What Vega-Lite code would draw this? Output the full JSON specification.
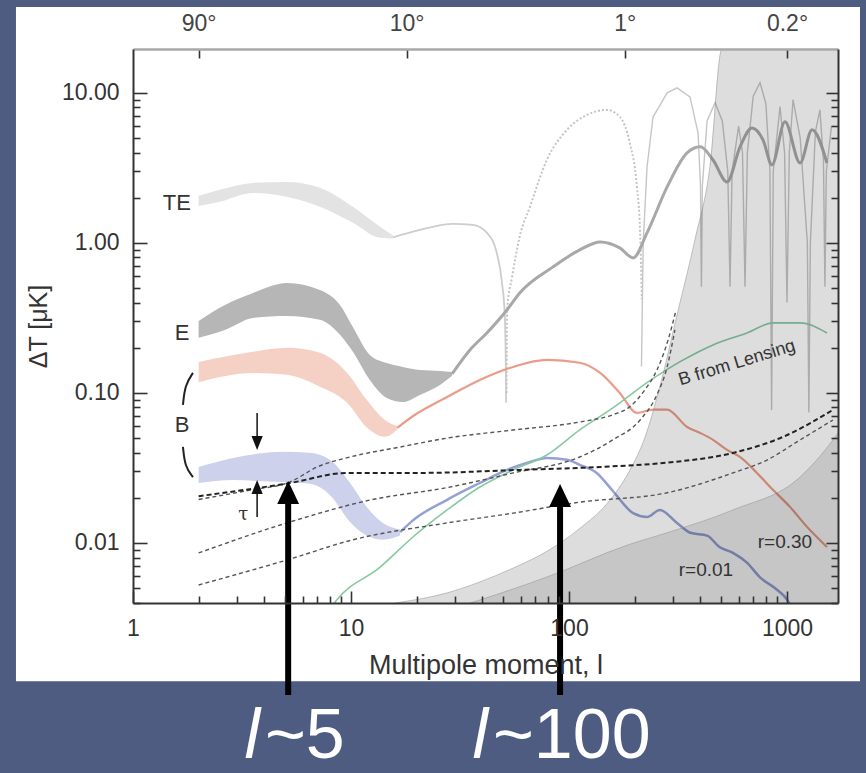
{
  "$schema": "https://vega.github.io/schema/vega-lite/v6.json",
  "width": 705,
  "height": 554,
  "autosize": {"type": "none"},
  "padding": {"left": 133, "top": 49, "right": 28, "bottom": 170},
  "background": "#4d5c80",
  "datasets": {
    "panel": [{"l": 0.2905, "l2": 2162, "v": 37.4, "v2": 0.0012}],
    "axdummy": [{"l": 10, "v": 1}],
    "te_band": [
      {"l": 2.0, "v": 2.06, "v2": 1.76}, {"l": 2.5, "v": 2.26, "v2": 1.88}, {"l": 3.55, "v": 2.51, "v2": 2.15},
      {"l": 5.08, "v": 2.55, "v2": 2.03}, {"l": 7.2, "v": 2.33, "v2": 1.74}, {"l": 10.2, "v": 1.74, "v2": 1.36},
      {"l": 13.6, "v": 1.28, "v2": 1.08}, {"l": 15.6, "v": 1.12, "v2": 1.07}
    ],
    "te_line": [
      {"l": 15.6, "v": 1.09}, {"l": 20.7, "v": 1.22}, {"l": 29.3, "v": 1.34}, {"l": 36.2, "v": 1.32}, {"l": 42, "v": 1.17},
      {"l": 46.6, "v": 0.86}, {"l": 49.3, "v": 0.54}, {"l": 50.8, "v": 0.32}, {"l": 51.3, "v": 0.15}, {"l": 51.5, "v": 0.086}
    ],
    "te_dot": [
      {"l": 51.7, "v": 0.1}, {"l": 52, "v": 0.36}, {"l": 54.8, "v": 0.59}, {"l": 59.4, "v": 1.1}, {"l": 66.2, "v": 1.74},
      {"l": 79.2, "v": 3.58}, {"l": 97.9, "v": 5.67}, {"l": 121, "v": 7.13}, {"l": 149, "v": 7.7}, {"l": 171, "v": 6.92},
      {"l": 190, "v": 4.64}, {"l": 205, "v": 2.36}, {"l": 212, "v": 1.17}, {"l": 216, "v": 0.42}
    ],
    "te_spk": [
      {"l": 215, "v": 0.15}, {"l": 219, "v": 1.0}, {"l": 228, "v": 3.2}, {"l": 243, "v": 6.9}, {"l": 282, "v": 10},
      {"l": 313, "v": 10.8}, {"l": 359, "v": 9.4}, {"l": 391, "v": 5.4}, {"l": 401, "v": 2.4}, {"l": 405, "v": 0.51},
      {"l": 409, "v": 2.4}, {"l": 430, "v": 6.5}, {"l": 468, "v": 8.6}, {"l": 505, "v": 6.5}, {"l": 535, "v": 3},
      {"l": 548, "v": 0.51}, {"l": 560, "v": 3}, {"l": 600, "v": 6}, {"l": 625, "v": 4}, {"l": 642, "v": 0.51},
      {"l": 658, "v": 4}, {"l": 700, "v": 9.5}, {"l": 752, "v": 11.7}, {"l": 800, "v": 8.5}, {"l": 835, "v": 3},
      {"l": 850, "v": 0.077}, {"l": 865, "v": 3}, {"l": 929, "v": 8.1}, {"l": 975, "v": 4}, {"l": 1000, "v": 0.4},
      {"l": 1025, "v": 4}, {"l": 1066, "v": 9}, {"l": 1150, "v": 5}, {"l": 1240, "v": 1}, {"l": 1260, "v": 0.074},
      {"l": 1280, "v": 1}, {"l": 1350, "v": 5.5}, {"l": 1416, "v": 7.7}, {"l": 1470, "v": 3.5}, {"l": 1493, "v": 0.51},
      {"l": 1515, "v": 3}, {"l": 1600, "v": 6}
    ],
    "e_band": [
      {"l": 2.0, "v": 0.302, "v2": 0.233}, {"l": 2.64, "v": 0.386, "v2": 0.263}, {"l": 3.55, "v": 0.464, "v2": 0.316},
      {"l": 5.08, "v": 0.541, "v2": 0.326}, {"l": 7.2, "v": 0.486, "v2": 0.307}, {"l": 8.9, "v": 0.386, "v2": 0.244},
      {"l": 10.2, "v": 0.275, "v2": 0.188}, {"l": 12.2, "v": 0.179, "v2": 0.122}, {"l": 14.6, "v": 0.158, "v2": 0.0926},
      {"l": 17.3, "v": 0.149, "v2": 0.087}, {"l": 20.7, "v": 0.142, "v2": 0.097}, {"l": 25.6, "v": 0.14, "v2": 0.113},
      {"l": 29.1, "v": 0.138, "v2": 0.13}
    ],
    "e_line": [
      {"l": 29.1, "v": 0.134}, {"l": 35.2, "v": 0.194}, {"l": 42, "v": 0.251}, {"l": 51.9, "v": 0.357}, {"l": 59.4, "v": 0.464},
      {"l": 84.5, "v": 0.692}, {"l": 112, "v": 0.898}, {"l": 139, "v": 1.015}, {"l": 171, "v": 0.926}, {"l": 197, "v": 0.794},
      {"l": 228, "v": 1.166}, {"l": 282, "v": 2.36}, {"l": 348, "v": 3.98}, {"l": 400, "v": 4.37}, {"l": 458, "v": 3.57},
      {"l": 531, "v": 2.55}, {"l": 609, "v": 4.37}, {"l": 691, "v": 5.84}, {"l": 776, "v": 4.86}, {"l": 853, "v": 3.31},
      {"l": 979, "v": 6.41}, {"l": 1148, "v": 3.41}, {"l": 1303, "v": 5.67}, {"l": 1525, "v": 3.41}
    ],
    "r30_band": [
      {"l": 2.0, "v": 0.161, "v2": 0.118}, {"l": 3.55, "v": 0.188, "v2": 0.136}, {"l": 5.08, "v": 0.2, "v2": 0.132},
      {"l": 7.2, "v": 0.185, "v2": 0.11}, {"l": 9.6, "v": 0.136, "v2": 0.086}, {"l": 11.8, "v": 0.09, "v2": 0.059},
      {"l": 14.3, "v": 0.066, "v2": 0.051}, {"l": 16.3, "v": 0.06, "v2": 0.057}
    ],
    "r30_line": [
      {"l": 16.3, "v": 0.0585}, {"l": 19.5, "v": 0.071}, {"l": 27.6, "v": 0.094}, {"l": 39, "v": 0.122}, {"l": 55.4, "v": 0.149},
      {"l": 79.2, "v": 0.166}, {"l": 112, "v": 0.159}, {"l": 139, "v": 0.136}, {"l": 171, "v": 0.1}, {"l": 205, "v": 0.0736},
      {"l": 243, "v": 0.0774}, {"l": 282, "v": 0.0774}, {"l": 348, "v": 0.0593}, {"l": 400, "v": 0.0541}, {"l": 458, "v": 0.0487},
      {"l": 531, "v": 0.0417}, {"l": 609, "v": 0.0375}, {"l": 728, "v": 0.0293}, {"l": 862, "v": 0.0226}, {"l": 1032, "v": 0.0174},
      {"l": 1236, "v": 0.0128}, {"l": 1525, "v": 0.0094}
    ],
    "r01_band": [
      {"l": 2.0, "v": 0.0321, "v2": 0.0251}, {"l": 2.87, "v": 0.0369, "v2": 0.0263}, {"l": 3.71, "v": 0.0393, "v2": 0.0259},
      {"l": 4.88, "v": 0.0405, "v2": 0.0255}, {"l": 6.48, "v": 0.0399, "v2": 0.0248}, {"l": 8.0, "v": 0.0359, "v2": 0.0209},
      {"l": 9.9, "v": 0.0251, "v2": 0.0138}, {"l": 11.8, "v": 0.0174, "v2": 0.0112}, {"l": 14.0, "v": 0.0136, "v2": 0.0105},
      {"l": 16.8, "v": 0.0123, "v2": 0.0112}
    ],
    "r01_line": [
      {"l": 16.8, "v": 0.0118}, {"l": 19.3, "v": 0.0142}, {"l": 27.6, "v": 0.0194}, {"l": 39, "v": 0.0251}, {"l": 51.9, "v": 0.0307},
      {"l": 66.2, "v": 0.0347}, {"l": 79.2, "v": 0.0369}, {"l": 97.9, "v": 0.0359}, {"l": 112, "v": 0.0332}, {"l": 134, "v": 0.0293},
      {"l": 159, "v": 0.0222}, {"l": 197, "v": 0.0158}, {"l": 228, "v": 0.0149}, {"l": 261, "v": 0.0166}, {"l": 313, "v": 0.0136},
      {"l": 360, "v": 0.0117}, {"l": 430, "v": 0.0112}, {"l": 490, "v": 0.0094}, {"l": 565, "v": 0.0086}, {"l": 655, "v": 0.0074},
      {"l": 752, "v": 0.0059}, {"l": 897, "v": 0.0049}, {"l": 1000, "v": 0.0042}, {"l": 1030, "v": 0.0039}
    ],
    "lens": [
      {"l": 8.3, "v": 0.0039}, {"l": 8.6, "v": 0.00417}, {"l": 13.6, "v": 0.0069}, {"l": 19.3, "v": 0.011}, {"l": 27.6, "v": 0.0166},
      {"l": 39, "v": 0.0236}, {"l": 55.4, "v": 0.0307}, {"l": 79.2, "v": 0.0386}, {"l": 112, "v": 0.0567}, {"l": 159, "v": 0.0794},
      {"l": 228, "v": 0.117}, {"l": 322, "v": 0.161}, {"l": 458, "v": 0.209}, {"l": 655, "v": 0.251}, {"l": 862, "v": 0.293},
      {"l": 1148, "v": 0.293}, {"l": 1525, "v": 0.251}
    ],
    "gray_light": [
      {"l": 15.9, "v": 0.00398}, {"l": 27.6, "v": 0.00465}, {"l": 39, "v": 0.0055}, {"l": 55.4, "v": 0.0068}, {"l": 79.2, "v": 0.0088},
      {"l": 112, "v": 0.0125}, {"l": 149, "v": 0.0182}, {"l": 190, "v": 0.0305}, {"l": 223, "v": 0.0505}, {"l": 261, "v": 0.11},
      {"l": 313, "v": 0.331}, {"l": 378, "v": 1.047}, {"l": 443, "v": 3.21}, {"l": 503, "v": 19.6}, {"l": 1714, "v": 19.6}
    ],
    "gray_dark": [
      {"l": 35.2, "v": 0.00398}, {"l": 39, "v": 0.00417}, {"l": 79.2, "v": 0.00593}, {"l": 190, "v": 0.0098}, {"l": 282, "v": 0.0117},
      {"l": 565, "v": 0.0166}, {"l": 1148, "v": 0.0275}, {"l": 1625, "v": 0.0486}, {"l": 1714, "v": 0.054}
    ],
    "dash_thin": [
      {"s": "a", "l": 2.0, "v": 0.0195}, {"s": "a", "l": 3.44, "v": 0.0225}, {"s": "a", "l": 5.25, "v": 0.0255}, {"s": "a", "l": 7.0, "v": 0.0321},
      {"s": "a", "l": 9.9, "v": 0.0374}, {"s": "a", "l": 16.8, "v": 0.0436}, {"s": "a", "l": 27.6, "v": 0.05}, {"s": "a", "l": 55.4, "v": 0.0566},
      {"s": "a", "l": 112, "v": 0.064}, {"s": "a", "l": 159, "v": 0.0716}, {"s": "a", "l": 190, "v": 0.0808}, {"s": "a", "l": 223, "v": 0.105},
      {"s": "a", "l": 253, "v": 0.142}, {"s": "a", "l": 285, "v": 0.226}, {"s": "a", "l": 310, "v": 0.357},
      {"s": "b", "l": 2.0, "v": 0.00858}, {"s": "b", "l": 5.08, "v": 0.0136}, {"s": "b", "l": 12.2, "v": 0.0193}, {"s": "b", "l": 28.5, "v": 0.0236},
      {"s": "b", "l": 55.4, "v": 0.0293}, {"s": "b", "l": 112, "v": 0.0374}, {"s": "b", "l": 159, "v": 0.0487}, {"s": "b", "l": 212, "v": 0.066},
      {"s": "b", "l": 253, "v": 0.097}, {"s": "b", "l": 282, "v": 0.149}, {"s": "b", "l": 306, "v": 0.263},
      {"s": "c", "l": 2.0, "v": 0.00525}, {"s": "c", "l": 5.08, "v": 0.0077}, {"s": "c", "l": 10.2, "v": 0.0105}, {"s": "c", "l": 27.6, "v": 0.0136},
      {"s": "c", "l": 55.4, "v": 0.0158}, {"s": "c", "l": 112, "v": 0.0187}, {"s": "c", "l": 282, "v": 0.0216}, {"s": "c", "l": 565, "v": 0.0293},
      {"s": "c", "l": 809, "v": 0.0357}, {"s": "c", "l": 1148, "v": 0.0486}, {"s": "c", "l": 1625, "v": 0.066}
    ],
    "dash_thick": [
      {"l": 2.0, "v": 0.0205}, {"l": 5.25, "v": 0.0251}, {"l": 9.6, "v": 0.0293}, {"l": 20.7, "v": 0.0293}, {"l": 59.4, "v": 0.0307},
      {"l": 139, "v": 0.0321}, {"l": 282, "v": 0.0343}, {"l": 565, "v": 0.0398}, {"l": 958, "v": 0.0509}, {"l": 1625, "v": 0.0771}
    ],
    "name_labels": [
      {"l": 1.59, "v": 1.85, "t": "TE"}, {"l": 1.68, "v": 0.251, "t": "E"}, {"l": 1.68, "v": 0.0612, "t": "B"}
    ],
    "r_labels": [
      {"l": 979, "v": 0.0102, "t": "r=0.30"}, {"l": 425, "v": 0.0066, "t": "r=0.01"}
    ],
    "tau_label": [{"l": 3.2, "v": 0.0154, "t": "τ"}],
    "lens_label": [{"l": 590, "v": 0.158, "t": "B from Lensing"}],
    "brace": [
      {"s": "top", "l": 1.885, "v": 0.136}, {"s": "top", "l": 1.732, "v": 0.113}, {"s": "top", "l": 1.695, "v": 0.0832},
      {"s": "bot", "l": 1.695, "v": 0.0437}, {"s": "bot", "l": 1.732, "v": 0.0321}, {"s": "bot", "l": 1.885, "v": 0.0275}
    ],
    "tau_shafts": [
      {"l": 3.71, "v": 0.0736, "v2": 0.0464}, {"l": 3.71, "v": 0.0149, "v2": 0.0236}
    ],
    "tau_head_down": [{"l": 3.71, "v": 0.0464}],
    "tau_head_up": [{"l": 3.71, "v": 0.0236}],
    "big_shafts": [
      {"l": 5.15, "v": 0.00097, "v2": 0.0225}, {"l": 91, "v": 0.00097, "v2": 0.0215}
    ],
    "big_heads": [{"l": 5.15, "v": 0.0217}, {"l": 91, "v": 0.0207}],
    "bottom_tilde": [
      {"l": 4.03, "v": 0.000293, "t": "~5"}, {"l": 44.8, "v": 0.000293, "t": "~100"}
    ],
    "bottom_ell": [
      {"l": 3.83, "v": 0.000293, "t": "l"}, {"l": 42.5, "v": 0.000293, "t": "l"}
    ]
  },
  "encoding": {
    "x": {"field": "l", "type": "quantitative", "scale": {"type": "log", "domain": [1, 1714], "nice": false}, "axis": null},
    "y": {"field": "v", "type": "quantitative", "scale": {"type": "log", "domain": [0.00398, 19.6], "nice": false}, "axis": null}
  },
  "layer": [
    {"data": {"name": "panel"}, "mark": {"type": "rect", "fill": "white", "clip": false}, "encoding": {"x2": {"field": "l2"}, "y2": {"field": "v2"}}},
    {"data": {"name": "te_band"}, "mark": {"type": "area", "color": "#e3e3e3", "interpolate": "monotone", "clip": true}, "encoding": {"y2": {"field": "v2"}}},
    {"data": {"name": "e_band"}, "mark": {"type": "area", "color": "#b6b6b6", "interpolate": "monotone", "clip": true}, "encoding": {"y2": {"field": "v2"}}},
    {"data": {"name": "r30_band"}, "mark": {"type": "area", "color": "#f4c9bc", "opacity": 0.88, "interpolate": "monotone", "clip": true}, "encoding": {"y2": {"field": "v2"}}},
    {"data": {"name": "r01_band"}, "mark": {"type": "area", "color": "#cdd1ec", "interpolate": "monotone", "clip": true}, "encoding": {"y2": {"field": "v2"}}},
    {"data": {"name": "te_line"}, "mark": {"type": "line", "color": "#cdcdcd", "strokeWidth": 1.8, "interpolate": "monotone", "clip": true}},
    {"data": {"name": "te_dot"}, "mark": {"type": "line", "color": "#c4c4c4", "strokeWidth": 2, "strokeDash": [2, 2], "interpolate": "monotone", "clip": true}},
    {"data": {"name": "te_spk"}, "mark": {"type": "line", "color": "#c6c6c6", "strokeWidth": 1.4, "clip": true}},
    {"data": {"name": "e_line"}, "mark": {"type": "line", "color": "#a8a8a8", "strokeWidth": 3, "interpolate": "monotone", "clip": true}},
    {"data": {"name": "r30_line"}, "mark": {"type": "line", "color": "#ea9c88", "strokeWidth": 2.2, "interpolate": "monotone", "clip": true}},
    {"data": {"name": "r01_line"}, "mark": {"type": "line", "color": "#97a0d4", "strokeWidth": 2.5, "interpolate": "monotone", "clip": true}},
    {"data": {"name": "lens"}, "mark": {"type": "line", "color": "#86c9a0", "strokeWidth": 1.6, "interpolate": "monotone", "clip": true}},
    {"data": {"name": "gray_light"}, "mark": {"type": "area", "color": "#000000", "opacity": 0.135, "interpolate": "monotone", "clip": true}, "encoding": {"y2": {"datum": 0.00398}}},
    {"data": {"name": "gray_dark"}, "mark": {"type": "area", "color": "#000000", "opacity": 0.1, "interpolate": "monotone", "clip": true}, "encoding": {"y2": {"datum": 0.00398}}},
    {"data": {"name": "gray_light"}, "mark": {"type": "line", "color": "#8a8a8a", "strokeWidth": 0.8, "opacity": 0.6, "interpolate": "monotone", "clip": true}},
    {"data": {"name": "gray_dark"}, "mark": {"type": "line", "color": "#8a8a8a", "strokeWidth": 0.8, "opacity": 0.6, "interpolate": "monotone", "clip": true}},
    {"data": {"name": "dash_thin"}, "mark": {"type": "line", "color": "#555555", "strokeWidth": 1.4, "strokeDash": [4, 3], "interpolate": "monotone", "clip": true}, "encoding": {"detail": {"field": "s"}}},
    {"data": {"name": "dash_thick"}, "mark": {"type": "line", "color": "#222222", "strokeWidth": 2, "strokeDash": [5, 3], "interpolate": "monotone", "clip": true}},
    {"data": {"name": "name_labels"}, "mark": {"type": "text", "font": "Liberation Sans", "fontSize": 22, "color": "#333333", "align": "center", "baseline": "middle", "clip": false}, "encoding": {"text": {"field": "t"}}},
    {"data": {"name": "r_labels"}, "mark": {"type": "text", "font": "Liberation Sans", "fontSize": 19, "color": "#333333", "align": "center", "baseline": "middle"}, "encoding": {"text": {"field": "t"}}},
    {"data": {"name": "tau_label"}, "mark": {"type": "text", "font": "DejaVu Serif", "fontSize": 18, "color": "#333333", "align": "center", "baseline": "middle"}, "encoding": {"text": {"field": "t"}}},
    {"data": {"name": "lens_label"}, "mark": {"type": "text", "font": "Liberation Sans", "fontSize": 18, "color": "#333333", "align": "center", "baseline": "middle", "angle": -17}, "encoding": {"text": {"field": "t"}}},
    {"data": {"name": "brace"}, "mark": {"type": "line", "color": "#222222", "strokeWidth": 2, "interpolate": "basis", "clip": false}, "encoding": {"detail": {"field": "s"}, "order": {"field": "v", "sort": "descending"}}},
    {"data": {"name": "tau_shafts"}, "mark": {"type": "rule", "color": "#111111", "strokeWidth": 1.5}, "encoding": {"y2": {"field": "v2"}}},
    {"data": {"name": "tau_head_down"}, "mark": {"type": "point", "shape": "M0,1L0.8,-1L-0.8,-1Z", "size": 196, "filled": true, "color": "#111111", "opacity": 1}},
    {"data": {"name": "tau_head_up"}, "mark": {"type": "point", "shape": "M0,-1L0.8,1L-0.8,1Z", "size": 196, "filled": true, "color": "#111111", "opacity": 1}},
    {"data": {"name": "big_shafts"}, "mark": {"type": "rule", "color": "#000000", "strokeWidth": 6, "clip": false}, "encoding": {"y2": {"field": "v2"}}},
    {"data": {"name": "big_heads"}, "mark": {"type": "point", "shape": "M0,-1L0.95,1L-0.95,1Z", "size": 529, "filled": true, "color": "#000000", "opacity": 1, "clip": false}},
    {"data": {"name": "bottom_tilde"}, "mark": {"type": "text", "font": "Liberation Sans", "fontSize": 70, "color": "#ffffff", "align": "left", "baseline": "bottom", "clip": false}, "encoding": {"text": {"field": "t"}}},
    {"data": {"name": "bottom_ell"}, "mark": {"type": "text", "font": "Liberation Sans", "fontSize": 70, "fontStyle": "italic", "color": "#ffffff", "align": "right", "baseline": "bottom", "clip": false}, "encoding": {"text": {"field": "t"}}},
    {
      "data": {"name": "axdummy"},
      "mark": {"type": "point", "opacity": 0},
      "encoding": {
        "x": {"field": "l", "type": "quantitative", "scale": {"type": "log", "domain": [1, 1714], "nice": false},
          "axis": {"orient": "bottom", "zindex": 2, "values": [1, 2, 3, 4, 5, 6, 7, 8, 9, 10, 20, 30, 40, 50, 60, 70, 80, 90, 100, 200, 300, 400, 500, 600, 700, 800, 900, 1000],
            "labelExpr": "abs(log(datum.value)/LN10 - round(log(datum.value)/LN10)) < 0.001 ? format(datum.value, 'd') : ''",
            "tickSize": {"condition": {"test": "abs(log(datum.value)/LN10 - round(log(datum.value)/LN10)) < 0.001", "value": -12}, "value": -7},
            "labelPadding": 26, "title": "Multipole moment, l", "titleFontSize": 27, "titlePadding": 7}},
        "y": {"field": "v", "type": "quantitative", "scale": {"type": "log", "domain": [0.00398, 19.6], "nice": false},
          "axis": {"orient": "left", "zindex": 2, "values": [0.004, 0.005, 0.006, 0.007, 0.008, 0.009, 0.01, 0.02, 0.03, 0.04, 0.05, 0.06, 0.07, 0.08, 0.09, 0.1, 0.2, 0.3, 0.4, 0.5, 0.6, 0.7, 0.8, 0.9, 1, 2, 3, 4, 5, 6, 7, 8, 9, 10],
            "labelExpr": "abs(log(datum.value)/LN10 - round(log(datum.value)/LN10)) < 0.001 ? format(datum.value, '.2f') : ''",
            "tickSize": {"condition": {"test": "abs(log(datum.value)/LN10 - round(log(datum.value)/LN10)) < 0.001", "value": -14}, "value": -7},
            "labelPadding": 28, "title": "ΔT [μK]", "titlePadding": 10}}
      }
    },
    {
      "data": {"name": "axdummy"},
      "mark": {"type": "point", "opacity": 0},
      "encoding": {
        "x": {"field": "l", "type": "quantitative", "scale": {"type": "log", "domain": [1, 1714], "nice": false},
          "axis": {"orient": "top", "zindex": 2, "values": [2, 18, 180, 1000],
            "labelExpr": "datum.value == 2 ? '90°' : datum.value == 18 ? '10°' : datum.value == 180 ? '1°' : '0.2°'",
            "tickSize": -9, "labelPadding": 23, "domainColor": "#a8a8a8", "domainWidth": 2.5, "labelColor": "#444444", "title": null}},
        "y": {"field": "v", "type": "quantitative", "scale": {"type": "log", "domain": [0.00398, 19.6], "nice": false},
          "axis": {"orient": "right", "zindex": 2, "values": [0.004, 0.005, 0.006, 0.007, 0.008, 0.009, 0.01, 0.02, 0.03, 0.04, 0.05, 0.06, 0.07, 0.08, 0.09, 0.1, 0.2, 0.3, 0.4, 0.5, 0.6, 0.7, 0.8, 0.9, 1, 2, 3, 4, 5, 6, 7, 8, 9, 10],
            "labels": false,
            "tickSize": {"condition": {"test": "abs(log(datum.value)/LN10 - round(log(datum.value)/LN10)) < 0.001", "value": -12}, "value": -7},
            "title": null}}
      }
    }
  ],
  "resolve": {"axis": {"x": "independent", "y": "independent"}},
  "config": {
    "view": {"stroke": null},
    "axis": {
      "grid": false,
      "labelFont": "Liberation Sans", "titleFont": "Liberation Sans",
      "labelFontSize": 23, "titleFontSize": 25, "titleFontWeight": "normal",
      "labelColor": "#333333", "titleColor": "#333333",
      "domainColor": "#333333", "domainWidth": 2,
      "tickColor": "#333333", "tickWidth": 1.6,
      "labelFlush": false, "labelOverlap": false
    }
  }
}
